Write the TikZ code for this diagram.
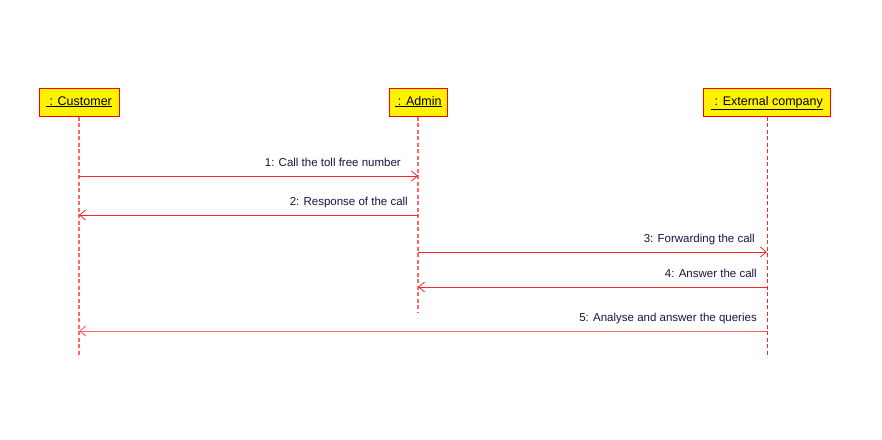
\documentclass[tikz,border=0pt]{standalone}
\usepackage{fontspec}
\setmainfont{Liberation Sans}
\usetikzlibrary{arrows.meta}
\definecolor{msgtext}{RGB}{20,20,70}
\tikzset{obj/.style={draw=red, line width=1pt, fill=yellow, minimum height=28pt, inner sep=0pt, text height=9pt, text depth=3pt, font=\fontsize{12.5}{14}\selectfont},
  life/.style={draw=red!60, line width=1.2pt, dash pattern=on 4pt off 2.5pt},
  msg/.style={draw=red!85, line width=0.8pt, -{Straight Barb[open,length=6pt,width=10pt]}},
  lbl/.style={text=msgtext, inner sep=0pt, anchor=base east, font=\fontsize{11.5}{13}\selectfont}}

\begin{document}
\begin{tikzpicture}[x=1pt,y=1pt]
\useasboundingbox (0,0) rectangle (882,-439);
% objects
\node[obj, minimum width=80pt] (cust) at (79,-102) {\underline{\ : Customer}};
\node[obj, minimum width=58pt] (adm) at (418,-102) {\underline{\ : Admin}};
\node[obj, minimum width=127pt] (ext) at (767,-102) {\underline{\ : External company}};
% lifelines
\coordinate (custend) at (79,-357);
\coordinate (admend) at (418,-312);
\coordinate (extend) at (767,-357);
\draw[life] (cust) -- (custend);
\draw[life] (adm) -- (admend);
\draw[life, draw=red!85, line width=0.9pt] (ext) -- (extend);
% messages
\coordinate (c1) at (79,-176); \coordinate (a1) at (418,-176);
\coordinate (c2) at (79,-215); \coordinate (a2) at (418,-215);
\coordinate (a3) at (418,-252); \coordinate (e3) at (767,-252);
\coordinate (a4) at (418,-287); \coordinate (e4) at (767,-287);
\coordinate (c5) at (79,-331); \coordinate (e5) at (767,-331);
\draw[msg] (c1) -- (a1);
\draw[msg] (a2) -- (c2);
\draw[msg] (a3) -- (e3);
\draw[msg] (e4) -- (a4);
\draw[msg, draw=red!60, line width=1pt] (e5) -- (c5);
\node[lbl] (l1) at (401,-166) {1: Call the toll free number};
\node[lbl] (l2) at (408,-205) {2: Response of the call};
\node[lbl] (l3) at (755,-242) {3: Forwarding the call};
\node[lbl] (l4) at (757,-277) {4: Answer the call};
\node[lbl] (l5) at (757,-321) {5: Analyse and answer the queries};
\end{tikzpicture}
\end{document}
